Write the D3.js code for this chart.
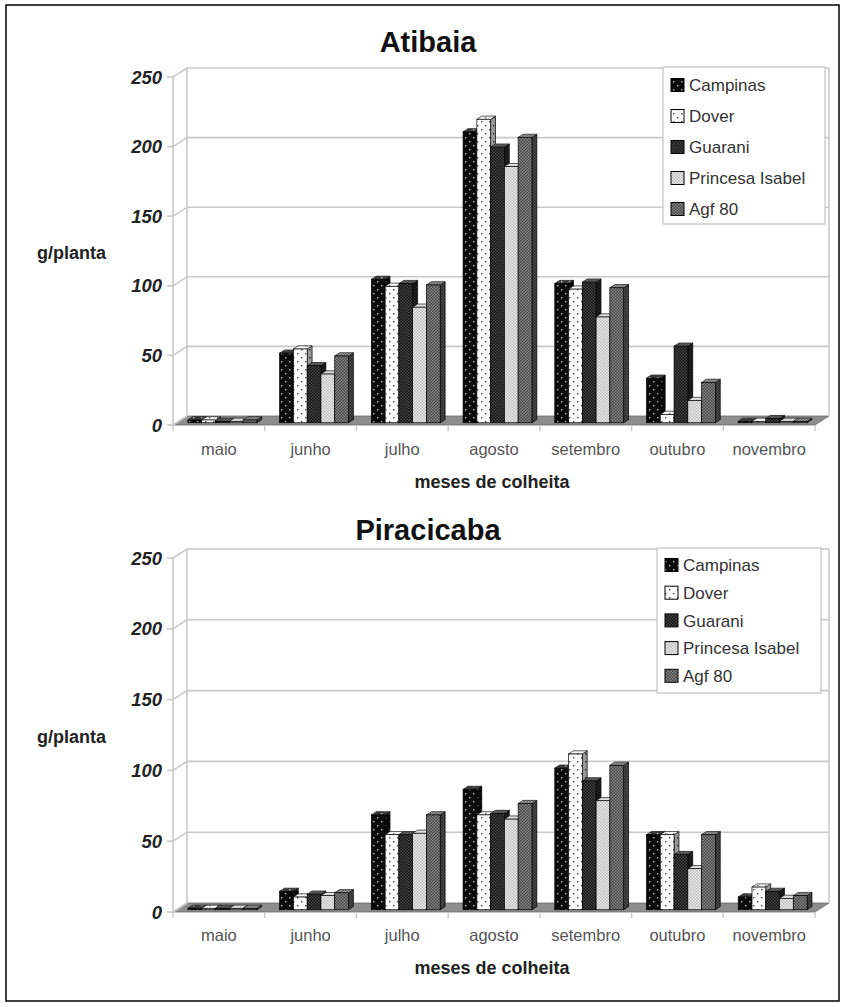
<!DOCTYPE html>
<html>
<head>
<meta charset="utf-8">
<script src="https://cdn.jsdelivr.net/npm/d3@7"></script>
<style>
  html, body { margin: 0; padding: 0; background: #fff; }
  svg { display: block; font-family: "Liberation Sans", Arial, sans-serif; }
</style>
</head>
<body>
<svg id="chart" width="845" height="1007"></svg>
<script>
// Harvest months and cultivars
const months = ["maio", "junho", "julho", "agosto", "setembro", "outubro", "novembro"];
const cultivars = ["Campinas", "Dover", "Guarani", "Princesa Isabel", "Agf 80"];
const yTicks = [0, 50, 100, 150, 200, 250];

// Atibaia, g/planta per month
const atibaiaCampinas = [2, 50, 103, 209, 100, 32, 1];
const atibaiaDover = [2, 53, 98, 218, 96, 6, 1];
const atibaiaGuarani = [1, 41, 100, 198, 101, 55, 3];
const atibaiaPrincesa = [1, 35, 83, 184, 76, 16, 1];
const atibaiaAgf = [2, 48, 99, 205, 97, 29, 1];

// Piracicaba, g/planta per month
const piracicabaCampinas = [1, 13, 67, 85, 100, 53, 9];
const piracicabaDover = [1, 9, 53, 67, 110, 53, 16];
const piracicabaGuarani = [1, 11, 53, 68, 91, 39, 13];
const piracicabaPrincesa = [1, 10, 54, 64, 77, 29, 8];
const piracicabaAgf = [1, 12, 67, 75, 102, 53, 10];

const svg = d3.select("#chart");

// outer frame
svg.append("rect").attr("x", 6).attr("y", 5).attr("width", 833).attr("height", 996)
  .attr("fill", "#fff").attr("stroke", "#000").attr("stroke-width", 1.5);

// fill patterns, one per cultivar
const defs = svg.append("defs");
function pat(id, size, draw) {
  const p = defs.append("pattern").attr("id", id).attr("patternUnits", "userSpaceOnUse")
    .attr("width", size).attr("height", size);
  draw(p);
}
pat("p0", 8, p => {
  p.append("rect").attr("width", 8).attr("height", 8).attr("fill", "#0a0a0a");
  p.append("rect").attr("x", 1).attr("y", 1).attr("width", 1.4).attr("height", 1.4).attr("fill", "#bbb");
  p.append("rect").attr("x", 5).attr("y", 5).attr("width", 1.4).attr("height", 1.4).attr("fill", "#bbb");
});
pat("p1", 8, p => {
  p.append("rect").attr("width", 8).attr("height", 8).attr("fill", "#fdfdfd");
  p.append("rect").attr("x", 1).attr("y", 1).attr("width", 1.4).attr("height", 1.4).attr("fill", "#444");
  p.append("rect").attr("x", 5).attr("y", 5).attr("width", 1.4).attr("height", 1.4).attr("fill", "#444");
});
pat("p2", 3, p => {
  p.append("rect").attr("width", 3).attr("height", 3).attr("fill", "#101010");
  p.append("rect").attr("x", 0).attr("y", 0).attr("width", 1.5).attr("height", 1.5).attr("fill", "#484848");
  p.append("rect").attr("x", 1.5).attr("y", 1.5).attr("width", 1.5).attr("height", 1.5).attr("fill", "#484848");
});
pat("p3", 3, p => {
  p.append("rect").attr("width", 3).attr("height", 3).attr("fill", "#ececec");
  p.append("rect").attr("x", 0).attr("y", 0).attr("width", 1.5).attr("height", 1.5).attr("fill", "#bdbdbd");
  p.append("rect").attr("x", 1.5).attr("y", 1.5).attr("width", 1.5).attr("height", 1.5).attr("fill", "#bdbdbd");
});
pat("p4", 3, p => {
  p.append("rect").attr("width", 3).attr("height", 3).attr("fill", "#444");
  p.append("rect").attr("x", 0).attr("y", 0).attr("width", 1.5).attr("height", 1.5).attr("fill", "#888");
  p.append("rect").attr("x", 1.5).attr("y", 1.5).attr("width", 1.5).attr("height", 1.5).attr("fill", "#888");
});

// 3D depth of the plot box and of the bars
const DX = 14, DY = -9;
const TF = 0.25, TB = 0.6; // front / back depth fractions of bars

function drawChart(cfg) {
  const g = svg.append("g");
  const x = d3.scaleBand().domain(months).range([173, 815]);
  const xs = d3.scaleBand().domain(cultivars).range([0, x.bandwidth()]).paddingOuter(0.83).paddingInner(0);
  const y = d3.scaleLinear().domain([0, 250]).range([cfg.y0, cfg.y250]);

  // title
  g.append("text").attr("x", 428).attr("y", cfg.titleY).attr("text-anchor", "middle")
    .attr("font-size", 29).attr("font-weight", "bold").attr("fill", "#111").text(cfg.title);

  // floor
  const xl = x.range()[0], xr = x.range()[1];
  g.append("polygon")
    .attr("points", [[xl, y(0)], [xr, y(0)], [xr + DX, y(0) + DY], [xl + DX, y(0) + DY]].map(p => p.join(",")).join(" "))
    .attr("fill", "#8d8d8d").attr("stroke", "#6a6a6a").attr("stroke-width", 0.8);

  // walls and gridlines
  const grid = "#c9c9c9";
  yTicks.forEach(t => {
    const yy = y(t);
    if (t > 0) {
      g.append("polyline")
        .attr("points", [[xl, yy], [xl + DX, yy + DY], [xr + DX, yy + DY]].map(p => p.join(",")).join(" "))
        .attr("fill", "none").attr("stroke", grid).attr("stroke-width", 1.6);
    } else {
      g.append("line").attr("x1", xl).attr("y1", yy).attr("x2", xl + DX).attr("y2", yy + DY)
        .attr("stroke", grid).attr("stroke-width", 1.6);
    }
    g.append("line").attr("x1", xl - 6).attr("y1", yy).attr("x2", xl).attr("y2", yy)
      .attr("stroke", grid).attr("stroke-width", 1.6);
  });
  g.append("line").attr("x1", xl).attr("y1", y(0)).attr("x2", xl).attr("y2", y(250))
    .attr("stroke", grid).attr("stroke-width", 1.6);
  g.append("line").attr("x1", xl + DX).attr("y1", y(0) + DY).attr("x2", xl + DX).attr("y2", y(250) + DY)
    .attr("stroke", grid).attr("stroke-width", 1.6);
  g.append("line").attr("x1", xr + DX).attr("y1", y(0) + DY).attr("x2", xr + DX).attr("y2", y(250) + DY)
    .attr("stroke", grid).attr("stroke-width", 1.6);

  // y tick labels
  g.selectAll(".yt").data(yTicks).join("text")
    .attr("x", 162).attr("y", d => y(d)).attr("dy", "0.36em").attr("text-anchor", "end")
    .attr("font-size", 18.5).attr("font-weight", "bold").attr("font-style", "italic").attr("fill", "#222")
    .text(d => d);

  // category ticks and labels
  months.forEach(m => {
    const xx = x(m);
    g.append("line").attr("x1", xx).attr("y1", y(0)).attr("x2", xx).attr("y2", y(0) + 6)
      .attr("stroke", grid).attr("stroke-width", 1.4);
  });
  g.append("line").attr("x1", xr).attr("y1", y(0)).attr("x2", xr).attr("y2", y(0) + 6)
    .attr("stroke", grid).attr("stroke-width", 1.4);
  g.selectAll(".xl").data(months).join("text")
    .attr("x", d => x(d) + x.bandwidth() / 2).attr("y", cfg.catY).attr("dy", "0.36em")
    .attr("text-anchor", "middle").attr("font-size", 16.5).attr("fill", "#555").text(d => d);

  // axis titles
  g.append("text").attr("x", 37).attr("y", (y(0) + y(250)) / 2 + 2).attr("dy", "0.36em")
    .attr("font-size", 18).attr("font-weight", "bold").attr("fill", "#222").text("g/planta");
  g.append("text").attr("x", 492).attr("y", cfg.xTitleY).attr("dy", "0.36em").attr("text-anchor", "middle")
    .attr("font-size", 18).attr("font-weight", "bold").attr("fill", "#222").text("meses de colheita");

  // bars, drawn left to right so nearer faces overlap
  const fdx = DX * TF, fdy = DY * TF;
  const sdx = DX * (TB - TF), sdy = DY * (TB - TF);
  const pts = a => a.map(p => p.join(",")).join(" ");
  months.forEach((m, mi) => {
    cultivars.forEach((c, ci) => {
      const v = cfg.values[ci][mi];
      const x0 = x(m) + xs(c) + fdx, x1 = x0 + xs.bandwidth();
      const yb = y(0) + fdy, yt = y(v) + fdy;
      const bar = g.append("g");
      const side = [[x1, yb], [x1 + sdx, yb + sdy], [x1 + sdx, yt + sdy], [x1, yt]];
      const top = [[x0, yt], [x1, yt], [x1 + sdx, yt + sdy], [x0 + sdx, yt + sdy]];
      // right side
      bar.append("polygon").attr("points", pts(side))
        .attr("fill", `url(#p${ci})`).attr("stroke", "#000").attr("stroke-width", 0.7);
      bar.append("polygon").attr("points", pts(side)).attr("fill", "#000").attr("opacity", 0.4);
      // top
      bar.append("polygon").attr("points", pts(top))
        .attr("fill", `url(#p${ci})`).attr("stroke", "#000").attr("stroke-width", 0.7);
      bar.append("polygon").attr("points", pts(top)).attr("fill", "#fff").attr("opacity", 0.2);
      // front
      bar.append("rect").attr("x", x0).attr("y", yt).attr("width", x1 - x0).attr("height", Math.max(0, yb - yt))
        .attr("fill", `url(#p${ci})`).attr("stroke", "#000").attr("stroke-width", 0.7);
    });
  });

  // legend
  const L = cfg.legend;
  const lg = g.append("g");
  lg.append("rect").attr("x", L.x).attr("y", L.y).attr("width", L.w).attr("height", L.h)
    .attr("fill", "#fff").attr("stroke", "#c4c4c4").attr("stroke-width", 1.2);
  cultivars.forEach((c, ci) => {
    const cy = L.first + ci * L.step;
    lg.append("rect").attr("x", L.x + 8).attr("y", cy - 6.5).attr("width", 13).attr("height", 13)
      .attr("fill", `url(#p${ci})`).attr("stroke", "#000").attr("stroke-width", 1);
    lg.append("text").attr("x", L.x + 26).attr("y", cy).attr("dy", "0.36em")
      .attr("font-size", 17).attr("fill", "#333").text(c);
  });
}

drawChart({
  title: "Atibaia", titleY: 52, y0: 425, y250: 77, catY: 449, xTitleY: 482,
  values: [atibaiaCampinas, atibaiaDover, atibaiaGuarani, atibaiaPrincesa, atibaiaAgf],
  legend: { x: 663, y: 67, w: 162, h: 157, first: 85, step: 31 }
});
drawChart({
  title: "Piracicaba", titleY: 540, y0: 912, y250: 558, catY: 935, xTitleY: 968,
  values: [piracicabaCampinas, piracicabaDover, piracicabaGuarani, piracicabaPrincesa, piracicabaAgf],
  legend: { x: 657, y: 548, w: 164, h: 145, first: 565, step: 27.7 }
});
</script>
</body>
</html>
